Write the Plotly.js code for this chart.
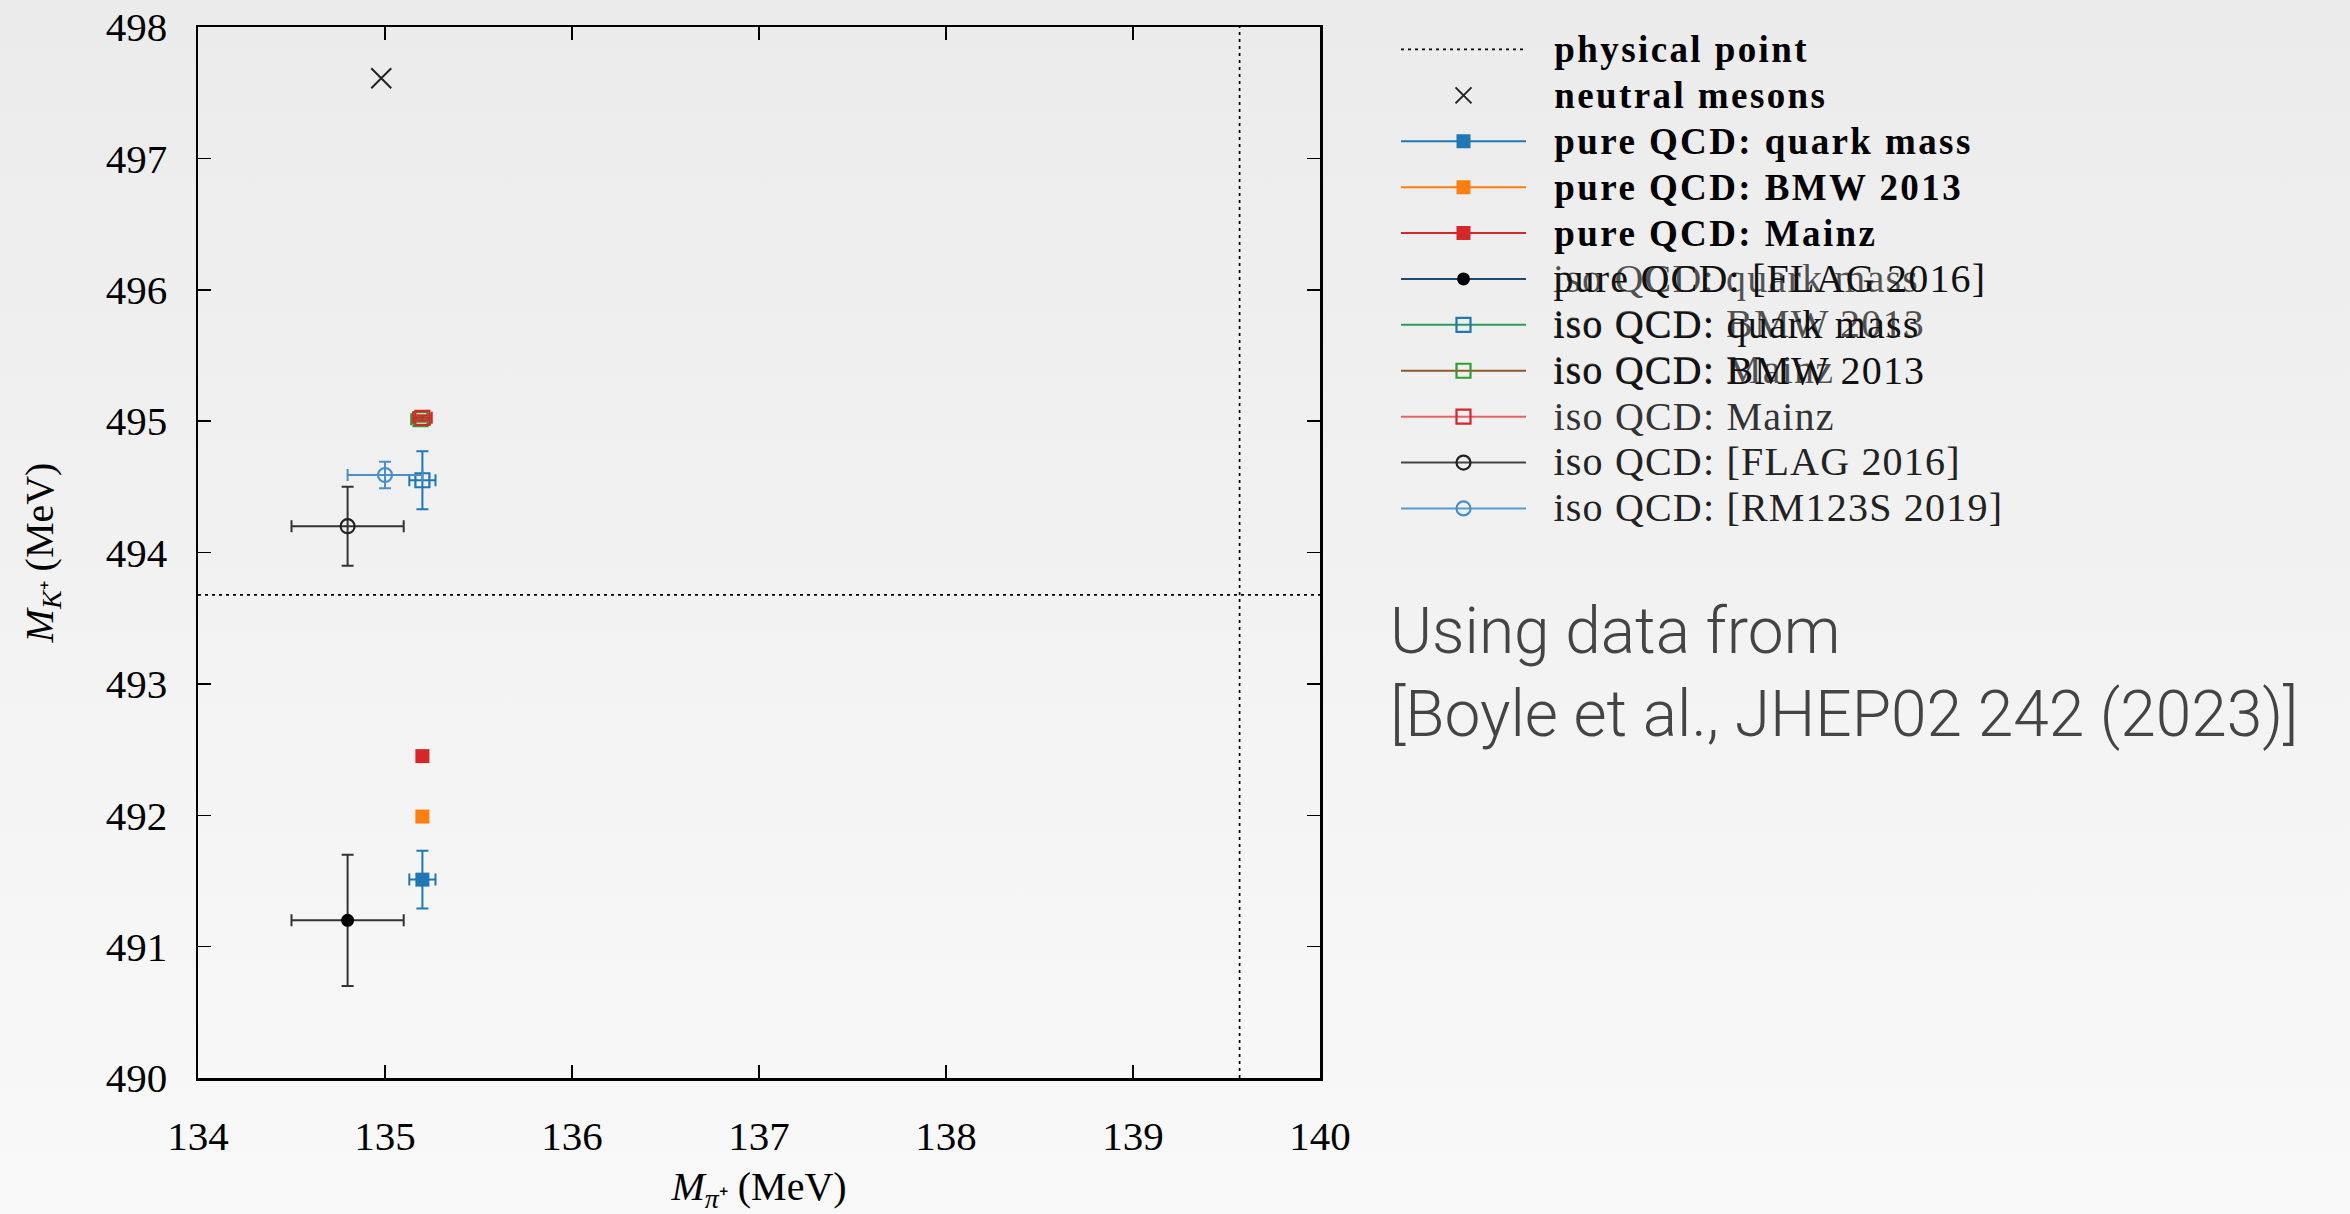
<!DOCTYPE html>
<html>
<head>
<meta charset="utf-8">
<script src="https://cdn.plot.ly/plotly-3.0.1.min.js"></script>
<style>
  html, body { margin: 0; padding: 0; }
  body { width: 2350px; height: 1214px; background: linear-gradient(#ebebeb, #f9f9f9); }
  #chart { width: 2350px; height: 1214px; }
  .xtick text, .ytick text { font-family: "Liberation Serif", serif !important; }
</style>
</head>
<body>
<div id="chart"></div>
<script>
// ---------- data (MeV) ----------
const xRange = [134, 140];
const yRange = [490, 498];
const xTicks = [134, 135, 136, 137, 138, 139, 140];
const yTicks = [490, 491, 492, 493, 494, 495, 496, 497, 498];

// physical point (charged pion / kaon)
const physPi = 139.57;
const physK = 493.677;

// neutral mesons
const neutralX = [134.98];
const neutralY = [497.61];

// series names (legend order)
const seriesNames = [
  "pure QCD: quark mass",
  "pure QCD: BMW 2013",
  "pure QCD: Mainz",
  "pure QCD: [FLAG 2016]",
  "iso QCD: quark mass",
  "iso QCD: BMW 2013",
  "iso QCD: Mainz",
  "iso QCD: [FLAG 2016]",
  "iso QCD: [RM123S 2019]"
];
const seriesX    = [135.20, 135.20, 135.20, 134.80, 135.20, 135.19, 135.20, 134.80, 135.00];
const seriesXerr = [0.07,   0.02,   0.02,   0.30,   0.07,   0.05,   0.05,   0.30,   0.20];
const seriesY    = [491.51, 491.99, 492.45, 491.20, 494.55, 495.015, 495.025, 494.20, 494.59];
const seriesYerr = [0.22,   0.03,   0.03,   0.50,   0.22,   0.02,   0.02,   0.30,   0.10];

// ghost labels of the overlapping legend rows (rows 6-8)
const ghostLabels = ["iso QCD: quark mass", "iso QCD: BMW 2013", "iso QCD: Mainz"];

// ---------- styles ----------
const colors   = ["#1f77b4", "#ff7f0e", "#d62728", "#000000", "#1f77b4", "#2ca02c", "#d62728", "#222222", "#4a90c8"];
const symbols  = ["square", "square", "square", "circle", "square-open", "square-open", "square-open", "circle-open", "circle-open"];
const sizes    = [14, 14, 14, 13, 14, 14, 14, 14, 14];
const errCols  = ["#1f77b4", "#ff7f0e", "#d62728", "#333333", "#1f77b4", "#2ca02c", "#d62728", "#333333", "#4a90c8"];
const legLineCols = ["#1f77b4", "#ff7f0e", "#d62728", "#1d4a72", "#2c9a5a", "#8a5a2a", "#e0666a", "#444444", "#5a9bd0"];
const boldRows = [true, true, true, false, false, false, false, false, false];
const textCols = ["#000", "#000", "#000", "#111", "#111", "#111", "#333", "#222", "#222"];

const SERIF = "Liberation Serif";
const NB = "\u00a0\u00a0";
function boldLabel(t) {
  return '<span style="font-size:37px;letter-spacing:2.4px;font-weight:bold">' + NB + t + '</span>';
}
function regLabel(t, col) {
  return '<span style="font-size:40px;letter-spacing:1.2px;fill:' + col + '">' + NB + t + '</span>';
}

const traces = [];
traces.push({
  x: [physPi, physPi, null, xRange[0], xRange[1]],
  y: [yRange[0], yRange[1], null, physK, physK],
  mode: "lines",
  name: boldLabel("physical point"),
  line: { color: "#000", width: 1.7, dash: "3px,4px" },
  hoverinfo: "skip"
});
traces.push({
  x: neutralX, y: neutralY,
  mode: "markers",
  name: boldLabel("neutral mesons"),
  marker: { symbol: "x-thin-open", size: 20, color: "#222", line: { width: 2, color: "#222" } }
});
for (let i = 0; i < seriesNames.length; i++) {
  const open = symbols[i].indexOf("open") >= 0;
  traces.push({
    x: [seriesX[i]], y: [seriesY[i]],
    mode: "lines+markers",
    name: boldRows[i] ? boldLabel(seriesNames[i]) : regLabel(seriesNames[i], textCols[i]),
    line: { color: legLineCols[i], width: 2 },
    marker: {
      symbol: symbols[i], size: sizes[i], color: colors[i],
      line: { width: open ? 2.2 : 0, color: colors[i] }
    },
    error_x: { type: "data", array: [seriesXerr[i]], width: 6, thickness: 2, color: errCols[i] },
    error_y: { type: "data", array: [seriesYerr[i]], width: 6, thickness: 2, color: errCols[i] }
  });
}

// plot-area geometry (px)
const L = 198, R = 1320, T = 27, B = 1078;
const W = 2350, H = 1214;
function px2x(p) { return (p - L) / (R - L); }
function px2y(p) { return (B - p) / (B - T); }

const rowCenters = [280, 325.5, 371.5];
const annotations = ghostLabels.map((t, k) => ({
  xref: "paper", yref: "paper",
  x: px2x(1551), y: px2y(rowCenters[k] - 2),
  xanchor: "left", yanchor: "middle",
  showarrow: false,
  text: '<span style="letter-spacing:1.2px">' + t + '</span>',
  font: { family: SERIF, size: 40, color: "rgba(20,20,20,0.72)" }
}));
annotations.push({
  xref: "paper", yref: "paper",
  x: px2x(1388), y: px2y(673),
  xanchor: "left", yanchor: "middle", align: "left",
  showarrow: false,
  text: "Using data from<br>[Boyle et al., JHEP02 242 (2023)]",
  font: { family: "Roboto", size: 64, color: "#444", weight: 300 }
});

function tickLabel(v) {
  return '<span style="font-family:\'Liberation Serif\',serif">' + v + '</span>';
}

function axisCommon() {
  return {
    ticks: "inside", ticklen: 13, tickwidth: 1.5, tickcolor: "#000",
    showline: true, linewidth: 2.5, linecolor: "#000", mirror: "ticks",
    showgrid: false, zeroline: false,
    tickfont: { family: "Liberation Serif, serif", size: 41, color: "#000" }
  };
}

const layout = {
  width: W, height: H,
  margin: { l: L, r: W - R, t: T, b: H - B },
  paper_bgcolor: "rgba(0,0,0,0)",
  plot_bgcolor: "rgba(0,0,0,0)",
  font: { family: SERIF, color: "#000" },
  showlegend: true,
  legend: {
    x: px2x(1396), y: px2y(21.5), xanchor: "left", yanchor: "top",
    bgcolor: "rgba(0,0,0,0)", borderwidth: 0,
    font: { family: SERIF, size: 33, color: "#000" },
    itemwidth: 125, itemclick: false, itemdoubleclick: false
  },
  xaxis: Object.assign(axisCommon(), {
    range: xRange, tickvals: xTicks, ticktext: xTicks.map(tickLabel),
    ticklabelstandoff: 20,
    title: { text: "<i>M</i><sub><i>π</i>⁺</sub> (MeV)", font: { family: SERIF, size: 40, color: "#000" }, standoff: 35 }
  }),
  yaxis: Object.assign(axisCommon(), {
    range: yRange, tickvals: yTicks, ticktext: yTicks.map(tickLabel),
    ticklabelstandoff: 20,
    title: { text: "<i>M</i><sub><i>K</i>⁺</sub> (MeV)", font: { family: SERIF, size: 40, color: "#000" }, standoff: 40 }
  }),
  annotations: annotations
};

Plotly.newPlot("chart", traces, layout, { displayModeBar: false, staticPlot: true });
</script>
</body>
</html>
